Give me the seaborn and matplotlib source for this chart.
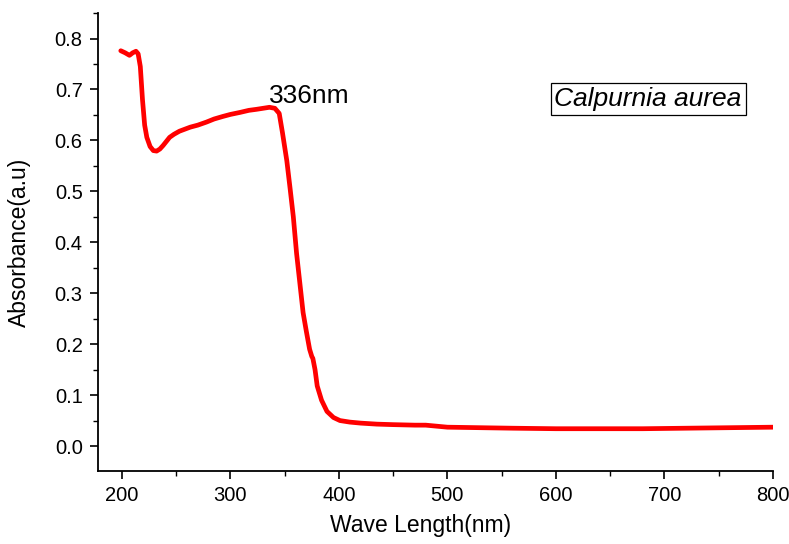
import matplotlib
matplotlib.use("Agg")
import matplotlib.pyplot as plt
import seaborn as sns
import pandas as pd
from matplotlib.ticker import MultipleLocator

wavelength = [199, 203, 207, 210, 213, 215, 217, 219, 221, 223, 226, 229, 232, 235, 238, 241,
              244, 248, 253, 258, 263, 270, 278, 285, 293, 300, 309, 317, 324, 330, 336,
              341, 345, 348, 352, 355, 358, 361, 364, 367, 370, 373, 375, 376, 378, 380,
              384, 389, 395, 401, 410, 420, 435, 450, 470, 480, 490, 500, 530, 560, 600,
              640, 680, 720, 760, 800]
absorbance = [0.776, 0.772, 0.767, 0.772, 0.775, 0.770, 0.745, 0.680, 0.630, 0.606, 0.588, 0.580,
              0.579, 0.583, 0.590, 0.598, 0.606, 0.612, 0.618, 0.622, 0.626, 0.630, 0.636,
              0.642, 0.647, 0.651, 0.655, 0.659, 0.661, 0.663, 0.665, 0.663, 0.653, 0.615,
              0.560, 0.506, 0.450, 0.378, 0.320, 0.262, 0.225, 0.190, 0.176, 0.172, 0.150,
              0.118, 0.090, 0.068, 0.056, 0.050, 0.047, 0.045, 0.043, 0.042, 0.041, 0.041,
              0.039, 0.037, 0.036, 0.035, 0.034, 0.034, 0.034, 0.035, 0.036, 0.037]
y_ticks = [0.0, 0.1, 0.2, 0.3, 0.4, 0.5, 0.6, 0.7, 0.8]

df = pd.DataFrame({"Wave Length(nm)": wavelength, "Absorbance(a.u)": absorbance})

sns.set_style("ticks")
plt.rcParams["font.family"] = ["Liberation Sans", "DejaVu Sans"]
plt.rcParams["text.color"] = "black"
plt.rcParams["axes.labelcolor"] = "black"

fig = plt.figure(figsize=(7.89, 5.44), dpi=100)
ax = fig.add_axes([0.1242, 0.1342, 0.8555, 0.8418])

sns.lineplot(data=df, x="Wave Length(nm)", y="Absorbance(a.u)", color="#ff0000",
             linewidth=3.4, estimator=None, sort=False, ax=ax)

ax.set_xlim(178, 800)
ax.set_ylim(-0.049, 0.85)
ax.xaxis.set_major_locator(MultipleLocator(100))
ax.xaxis.set_minor_locator(MultipleLocator(50))
ax.yaxis.set_minor_locator(MultipleLocator(0.05))
ax.set_yticks(y_ticks)
ax.set_yticklabels([f"{v:.1f}" for v in y_ticks])

for s in ["top", "right"]:
    ax.spines[s].set_visible(False)
for s in ["left", "bottom"]:
    ax.spines[s].set_linewidth(1.3)
    ax.spines[s].set_color("black")

ax.tick_params(which="major", direction="out", length=6, width=1.2, labelsize=14.5,
               colors="black", labelcolor="black", pad=5)
ax.tick_params(which="minor", direction="out", length=3.5, width=1.0, colors="black")

ax.set_xlabel("Wave Length(nm)", fontsize=16.5, color="black")
ax.set_ylabel("Absorbance(a.u)", fontsize=16.5, color="black")
ax.xaxis.set_label_coords(0.478, -0.095)
ax.yaxis.set_label_coords(-0.10, 0.5)

ax.text(336, 0.688, "336nm", fontsize=19, ha="left", va="center", color="black")

ax.text(0.815, 0.812, "Calpurnia aurea", transform=ax.transAxes, fontsize=19,
        style="italic", ha="center", va="center", color="black",
        bbox=dict(boxstyle="square,pad=0.15", facecolor="white", edgecolor="black",
                  linewidth=0.9))

fig.savefig("out.png", dpi=100)
